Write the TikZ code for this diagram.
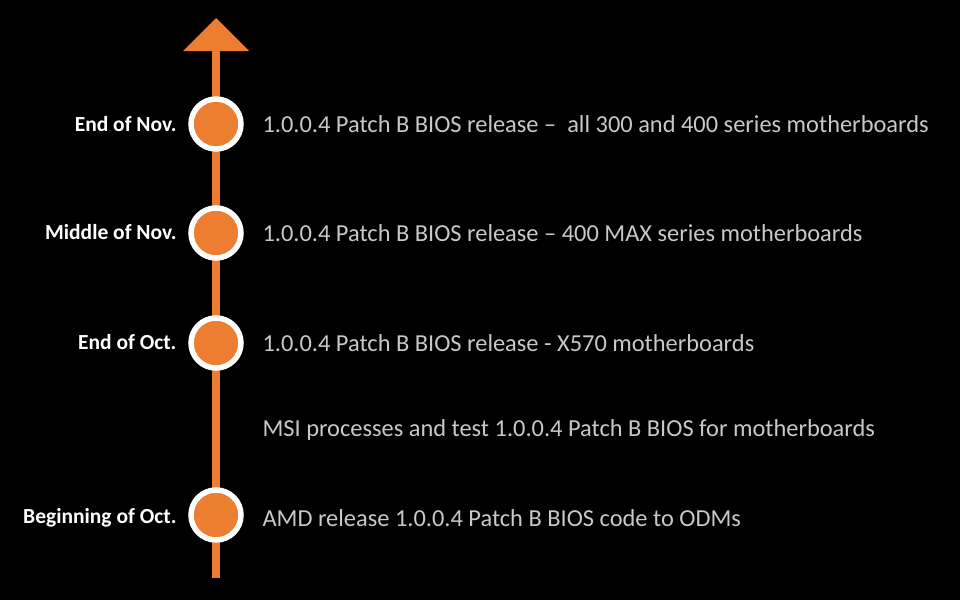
\documentclass[tikz,border=0pt]{standalone}
\usepackage{fontspec}
\setmainfont{Carlito}
\begin{document}
\begin{tikzpicture}[x=1pt,y=-1pt,
  dot/.style={circle,fill=orgc,draw=white,line width=5.5pt,minimum size=50pt,inner sep=0pt},
  when/.style={anchor=east,text=white,font=\fontsize{21.5}{24}\selectfont\bfseries},
  what/.style={anchor=west,text=txtc,font=\fontsize{24.4}{28}\selectfont}]
\definecolor{orgc}{HTML}{ED7D31}
\definecolor{txtc}{HTML}{C8C8C8}
\fill[black] (0,0) rectangle (960,600);
\useasboundingbox (0,0) rectangle (960,600);
\coordinate (bot) at (216,578);
\coordinate (top) at (216,50);
\draw[orgc,line width=8pt] (bot) -- (top);
\fill[orgc] (183,51) -- (216,18) -- (249,51) -- cycle;
\node[dot] (d1) at (216,124) {};
\node[dot] (d2) at (216,233) {};
\node[dot] (d3) at (216,343) {};
\node[dot] (d4) at (216,515) {};
\node[when] (w1) at (180,124) {End of Nov.};
\node[when] (w2) at (180,232) {Middle of Nov.};
\node[when] (w3) at (180,342) {End of Oct.};
\node[when] (w4) at (180,518) {Beginning of Oct.};
\node[what] (t1) at (259,124) {1.0.0.4 Patch B BIOS release –\ \ all 300 and 400 series motherboards};
\node[what] (t2) at (259,233) {1.0.0.4 Patch B BIOS release – 400 MAX series motherboards};
\node[what] (t3) at (259,343) {1.0.0.4 Patch B BIOS release - X570 motherboards};
\node[what] (t5) at (259,430) {MSI processes and test 1.0.0.4 Patch B BIOS for motherboards};
\node[what] (t4) at (259,518) {AMD release 1.0.0.4 Patch B BIOS code to ODMs};
\end{tikzpicture}
\end{document}
